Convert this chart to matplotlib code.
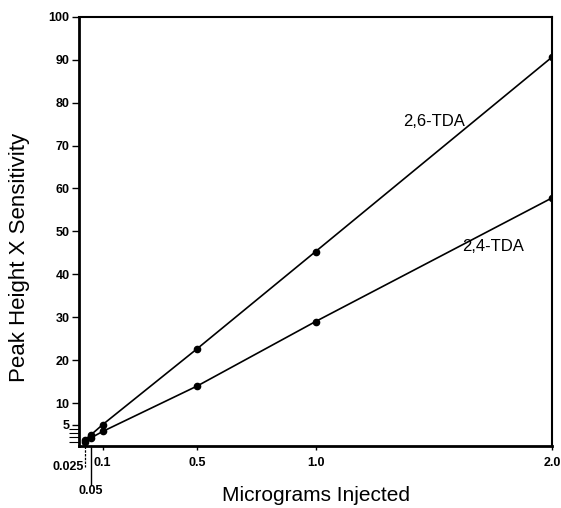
import numpy as np
import matplotlib.pyplot as plt

micrograms = [0.025, 0.05, 0.1, 0.5, 1.0, 2.0]
tda_26 = [1.5, 2.6, 5.0, 22.7, 45.3, 90.6]
tda_24 = [1.0, 1.9, 3.4, 14.0, 29.0, 57.8]

y_ticks = [5, 10, 20, 30, 40, 50, 60, 70, 80, 90, 100]
y_minor = [1, 2, 3, 4]
x_ticks = [0.1, 0.5, 1.0, 2.0]
x_tick_labels = ['0.1', '0.5', '1.0', '2.0']

plt.rcParams['font.family'] = 'Liberation Sans'

fig = plt.figure(figsize=(5.61, 5.08), dpi=100)
ax = fig.add_axes([0.141, 0.122, 0.843, 0.845])

ax.plot(micrograms, tda_26, color='black', lw=1.2, marker='o', ms=4.5)
ax.plot(micrograms, tda_24, color='black', lw=1.2, marker='o', ms=4.5)

ax.text(1.50, 75.5, '2,6-TDA', fontsize=12, ha='center', va='center')
ax.text(1.75, 46.5, '2,4-TDA', fontsize=12, ha='center', va='center')

ax.set_xlim(0, 2.0)
ax.set_ylim(0, 100)
ax.set_yticks(y_ticks)
ax.set_yticklabels([str(v) for v in y_ticks], fontsize=9, fontweight='bold')
ax.set_yticks(y_minor, minor=True)
ax.set_xticks(x_ticks)
ax.set_xticklabels(x_tick_labels, fontsize=9, fontweight='bold')
ax.tick_params(axis='both', direction='out', width=1, length=5, pad=2)
ax.tick_params(axis='x', length=3, pad=5)
ax.tick_params(axis='y', which='minor', direction='out', length=7, width=0.8)

for s in ['left', 'bottom']:
    ax.spines[s].set_linewidth(2)
for s in ['top', 'right']:
    ax.spines[s].set_linewidth(1.5)

# extra labelled ticks below the axis for the two smallest amounts
ax.plot([0.025, 0.025], [0, -5], color='black', lw=0.9, ls=(0, (2, 1)),
        clip_on=False)
ax.text(0.022, -5, '0.025', fontsize=9, fontweight='bold', ha='right',
        va='center')
ax.plot([0.05, 0.05], [0, -9], color='black', lw=1, clip_on=False)
ax.text(0.05, -10.5, '0.05', fontsize=9, fontweight='bold', ha='center',
        va='center')

ax.set_xlabel('Micrograms Injected', fontsize=15, labelpad=12)
ax.set_ylabel('Peak Height X Sensitivity', fontsize=16)
ax.yaxis.set_label_coords(-0.104, 0.44)

fig.savefig('out.png', dpi=100)
